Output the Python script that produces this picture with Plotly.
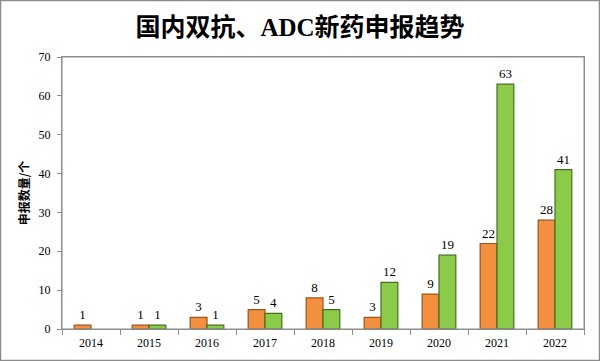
import plotly.graph_objects as go

years = ["2014", "2015", "2016", "2017", "2018", "2019", "2020", "2021", "2022"]
bispecific = [1, 1, 3, 5, 8, 3, 9, 22, 28]
adc = [None, 1, 1, 4, 5, 12, 19, 63, 41]
y_ticks = [0, 10, 20, 30, 40, 50, 60, 70]

serif = "Liberation Serif, Times New Roman, serif"

fig = go.Figure()
fig.add_trace(go.Bar(
    x=years, y=bispecific, name="双抗",
    marker=dict(color="#F3903F", line=dict(color="#9C5418", width=1.2)),
    text=[str(v) for v in bispecific], textposition="outside",
    textfont=dict(family=serif, size=13, color="#000000"), cliponaxis=False,
))
fig.add_trace(go.Bar(
    x=years, y=adc, name="ADC",
    marker=dict(color="#8CCB4A", line=dict(color="#456F1E", width=1.2)),
    text=[("" if v is None else str(v)) for v in adc], textposition="outside",
    textfont=dict(family=serif, size=13, color="#000000"), cliponaxis=False,
))

fig.update_layout(
    width=600, height=361,
    margin=dict(l=62, r=16, t=57, b=32),
    paper_bgcolor="white", plot_bgcolor="white",
    barmode="group", bargap=0.42, bargroupgap=0.0,
    showlegend=False,
    title=dict(text="<b>国内双抗、ADC新药申报趋势</b>", x=0.5, xanchor="center",
               y=0.925, yanchor="middle",
               font=dict(family="Liberation Serif, Noto Sans CJK SC", size=25, color="#000000")),
    font=dict(family=serif, size=12, color="#000000"),
)
fig.update_xaxes(
    showline=True, linecolor="#8C8C8C", linewidth=1, mirror=True,
    ticks="outside", tickson="boundaries", ticklen=5, tickcolor="#8C8C8C",
    ticklabelstandoff=3,
    tickfont=dict(family=serif, size=12, color="#000000"),
    showgrid=False,
)
fig.update_yaxes(
    range=[0, 70], tickvals=y_ticks,
    showline=True, linecolor="#8C8C8C", linewidth=1, mirror=True,
    ticks="outside", ticklen=4, tickcolor="#8C8C8C",
    ticklabelstandoff=4,
    tickfont=dict(family=serif, size=12, color="#000000"),
    showgrid=False, zeroline=False,
    title=dict(text="<b>申报数量/个</b>", standoff=6,
               font=dict(family="Noto Sans CJK SC", size=12, color="#000000")),
)
fig.add_shape(type="rect", xref="paper", yref="paper", x0=0, x1=1, y0=0, y1=1,
              line=dict(color="#8C8C8C", width=1))
# outer border around the whole picture
fig.add_shape(type="rect", xref="paper", yref="paper",
              x0=-61.5/522, x1=1+15.5/522, y0=-31.5/272, y1=1+56.5/272,
              line=dict(color="#8C8C8C", width=1.5), layer="above")

fig.write_html("out.html",
               config={"displayModeBar": False},
               post_script="document.body.style.margin='0';document.body.style.padding='0';")
